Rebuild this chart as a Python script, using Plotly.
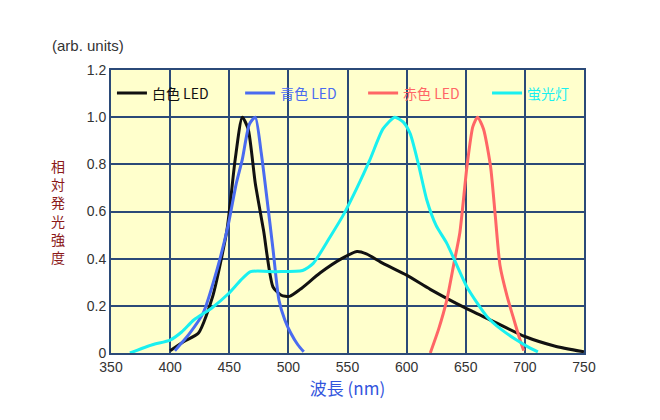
import plotly.graph_objects as go

# spectra (wavelength nm, relative intensity)
white_nm = [400, 412, 424, 436, 448, 455, 461, 466, 472, 479, 487, 494, 501, 510, 527, 545, 558, 566, 580, 600, 620, 650, 675, 700, 725, 750]
white_val = [0.01, 0.05, 0.085, 0.24, 0.52, 0.82, 1.0, 0.95, 0.72, 0.52, 0.28, 0.245, 0.24, 0.27, 0.34, 0.40, 0.43, 0.42, 0.38, 0.33, 0.27, 0.19, 0.13, 0.07, 0.03, 0.005]

blue_nm = [404, 416, 428, 440, 449, 456, 461, 467, 472, 477, 482, 487, 492, 497, 502, 508, 513]
blue_val = [0.01, 0.08, 0.17, 0.36, 0.54, 0.72, 0.82, 0.97, 1.0, 0.85, 0.65, 0.44, 0.225, 0.14, 0.085, 0.035, 0.005]

red_nm = [620, 627, 634, 640, 645, 651, 656, 660, 665, 671, 675, 679, 685, 690, 695, 699]
red_val = [0.0, 0.10, 0.225, 0.38, 0.51, 0.79, 0.96, 1.0, 0.95, 0.79, 0.58, 0.37, 0.24, 0.154, 0.07, 0.01]

fluor_nm = [366, 385, 400, 410, 420, 435, 449, 460, 468, 490, 512, 521, 535, 547, 558, 569, 580, 590, 597, 603, 610, 617, 625, 634, 651, 668, 680, 693, 703, 711]
fluor_val = [0.0, 0.035, 0.055, 0.09, 0.14, 0.19, 0.25, 0.31, 0.345, 0.345, 0.35, 0.38, 0.49, 0.59, 0.70, 0.82, 0.95, 1.0, 0.98, 0.93, 0.80, 0.65, 0.54, 0.465, 0.28, 0.154, 0.10, 0.055, 0.025, 0.005]

y_ticks = [0, 0.2, 0.4, 0.6, 0.8, 1.0, 1.2]
y_ticktext = ["0", "0.2", "0.4", "0.6", "0.8", "1.0", "1.2"]

FONT = "Liberation Sans, Noto Sans CJK JP, sans-serif"
CJK = "Noto Sans CJK JP, sans-serif"
GRID = "#2B4A78"

series = [
    ("白色 LED", white_nm, white_val, "#111111"),
    ("青色 LED", blue_nm, blue_val, "#4A6BF0"),
    ("赤色 LED", red_nm, red_val, "#FF6666"),
    ("蛍光灯", fluor_nm, fluor_val, "#19F0F0"),
]
# one small legend per trace so the row sits like the reference
legend_x = [0.002, 0.273, 0.533, 0.795]

fig = go.Figure()
legends = {}
for i, (name, xs, ys, col) in enumerate(series):
    key = "legend" if i == 0 else f"legend{i + 1}"
    fig.add_trace(go.Scatter(
        x=xs, y=ys, mode="lines",
        name=f"<span style='color:{col}'>{name}</span>",
        line=dict(color=col, width=3, shape="spline", smoothing=0.6),
        legend=key, showlegend=True,
    ))
    legends[key] = dict(
        orientation="h", x=legend_x[i], y=0.917, xanchor="left", yanchor="middle",
        bgcolor="rgba(0,0,0,0)", font=dict(size=14, family=CJK), itemwidth=30,
    )

# page body has an 8px margin, so margins are shifted to keep the plot box in place
fig.update_layout(
    width=660, height=420,
    margin=dict(l=103, r=84, t=62, b=75),
    paper_bgcolor="white",
    plot_bgcolor="#FFFFCC",
    showlegend=True,
    font=dict(family=FONT, size=14, color="#333333"),
    xaxis=dict(
        range=[350, 750], dtick=50, tick0=350,
        showgrid=True, gridcolor=GRID, gridwidth=1.5,
        showline=True, linecolor=GRID, linewidth=2, mirror=True,
        zeroline=False, ticks="", tickfont=dict(size=14, color="#333333"),
        title=dict(text="波長 (nm)", font=dict(size=17, color="#3355DD", family=CJK),
                   standoff=2),
    ),
    yaxis=dict(
        range=[0, 1.2], tickvals=y_ticks, ticktext=y_ticktext,
        showgrid=True, gridcolor=GRID, gridwidth=1.5,
        showline=True, linecolor=GRID, linewidth=2, mirror=True,
        zeroline=False, ticks="", tickfont=dict(size=14, color="#333333"),
    ),
    annotations=[
        dict(text="(arb. units)", xref="paper", yref="paper", x=-0.13, y=1.088,
             xanchor="left", yanchor="middle", showarrow=False,
             font=dict(size=15, color="#333333")),
        dict(text="相<br>対<br>発<br>光<br>強<br>度", xref="paper", yref="paper",
             x=-0.112, y=0.50, xanchor="center", yanchor="middle", showarrow=False,
             font=dict(size=14, color="#8B1A1A", family=CJK)),
    ],
    **legends,
)

fig.write_html("out.html")
